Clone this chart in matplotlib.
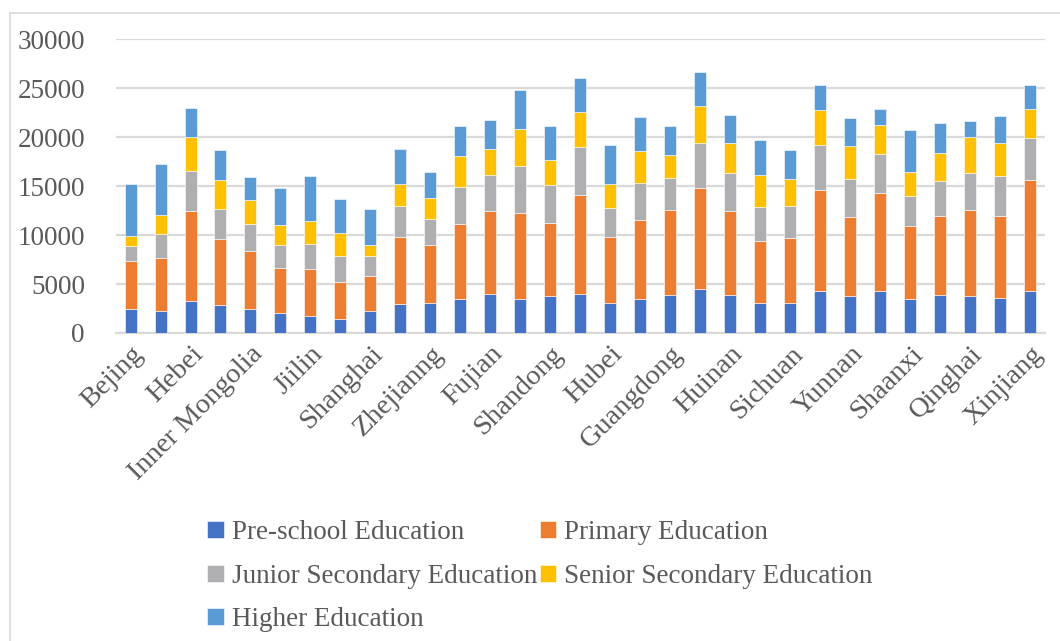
import numpy as np
import matplotlib.pyplot as plt
from matplotlib.patches import Rectangle

provinces = ['Bejing', 'Tianjin', 'Hebei', 'Shanxi', 'Inner Mongolia', 'Liaoning',
             'Jiilin', 'Heilongjiang', 'Shanghai', 'Jiangsu', 'Zhejianng', 'Anhui',
             'Fujian', 'Jiangxi', 'Shandong', 'Henan', 'Hubei', 'Hunan', 'Guangdong',
             'Guangxi', 'Huinan', 'Chongqing', 'Sichuan', 'Guizhou', 'Yunnan', 'Tibet',
             'Shaanxi', 'Gansu', 'Qinghai', 'Ningxia', 'Xinjiang']

preschool = [2500, 2200, 3230, 2820, 2480, 2000, 1700, 1460, 2210, 2920, 3060, 3430,
             3940, 3500, 3740, 3940, 3020, 3500, 3910, 4450, 3840, 3020, 3090, 4250,
             3740, 4250, 3430, 3870, 3810, 3600, 4250]
primary = [4800, 5440, 9240, 6760, 5850, 4660, 4790, 3700, 3570, 6930, 5950, 7710,
           8530, 8800, 7480, 10190, 6730, 7990, 8600, 10330, 8600, 6350, 6560, 10300,
           8150, 10020, 7540, 8090, 8730, 8390, 11380]
junior = [1600, 2480, 4110, 3090, 2790, 2310, 2550, 2690, 2040, 3130, 2580, 3770,
          3670, 4790, 3840, 4860, 3060, 3870, 3360, 4590, 3870, 3530, 3360, 4690,
          3870, 3980, 3020, 3530, 3770, 4010, 4320]
senior = [1000, 1940, 3470, 2920, 2480, 2070, 2410, 2340, 1160, 2240, 2140, 3160,
          2620, 3740, 2650, 3600, 2450, 3190, 2310, 3800, 3130, 3200, 2750, 3530,
          3330, 2960, 2410, 2890, 3740, 3370, 2920]
higher = [5350, 5160, 2920, 3060, 2340, 3770, 4550, 3470, 3670, 3530, 2680, 3090,
          3030, 4010, 3400, 3430, 3910, 3470, 2920, 3470, 2850, 3570, 2920, 2580,
          2890, 1670, 4280, 3020, 1600, 2750, 2480]

series = [('Pre-school Education', preschool, '#4472C4'),
          ('Primary Education', primary, '#ED7D31'),
          ('Junior Secondary Education', junior, '#AFAFB2'),
          ('Senior Secondary Education', senior, '#FFC000'),
          ('Higher Education', higher, '#5B9BD5')]

plt.rcParams['font.family'] = ['Liberation Serif', 'DejaVu Serif']
txt = '#595959'

fig = plt.figure(figsize=(10.6, 6.41), dpi=100)
ax = fig.add_axes([0.109, 0.4805, 0.877, 0.4585])

x = np.arange(len(provinces))
bottom = np.zeros(len(provinces))
handles = {}
for name, vals, col in series:
    vals = np.array(vals, dtype=float)
    b = ax.bar(x, vals, 0.4, bottom=bottom, color=col, edgecolor='white',
               linewidth=0.4, label=name, zorder=3)
    handles[name] = b
    bottom += vals

ax.set_xlim(-0.5, len(provinces) - 0.5)
ax.set_ylim(0, 30000)
ax.set_yticks(np.arange(0, 30001, 5000))
ax.yaxis.grid(True, color='#D9D9D9', linewidth=1.6, zorder=0)
ax.set_axisbelow(True)
for s in ['top', 'right', 'left']:
    ax.spines[s].set_visible(False)
ax.spines['bottom'].set_color('#D9D9D9')
ax.spines['bottom'].set_linewidth(1.6)
ax.tick_params(axis='y', length=0, pad=22, labelsize=19.5, labelcolor=txt)
ax.tick_params(axis='x', length=0, pad=6, labelsize=20.5, labelcolor=txt)

ax.set_xticks(x[::2])
ax.set_xticklabels(provinces[::2], rotation=45, ha='right', rotation_mode='anchor')

# chart frame
fig.patches.append(Rectangle((10 / 1060, -0.1), 1.2, 1.0 + 0.1 - 12.7 / 641,
                             transform=fig.transFigure, fill=False,
                             edgecolor='#D9D9D9', linewidth=1.2))

order = ['Pre-school Education', 'Junior Secondary Education', 'Higher Education',
         'Primary Education', 'Senior Secondary Education']
leg = fig.legend([handles[n] for n in order], order, ncol=2, loc='upper left',
                 bbox_to_anchor=(183 / 1060, 1 - 496 / 641), frameon=False,
                 fontsize=19.5, handlelength=0.6, handleheight=0.6, handletextpad=0.3,
                 columnspacing=0.1, labelspacing=0.68, labelcolor=txt)

fig.savefig('out.png', dpi=100)
